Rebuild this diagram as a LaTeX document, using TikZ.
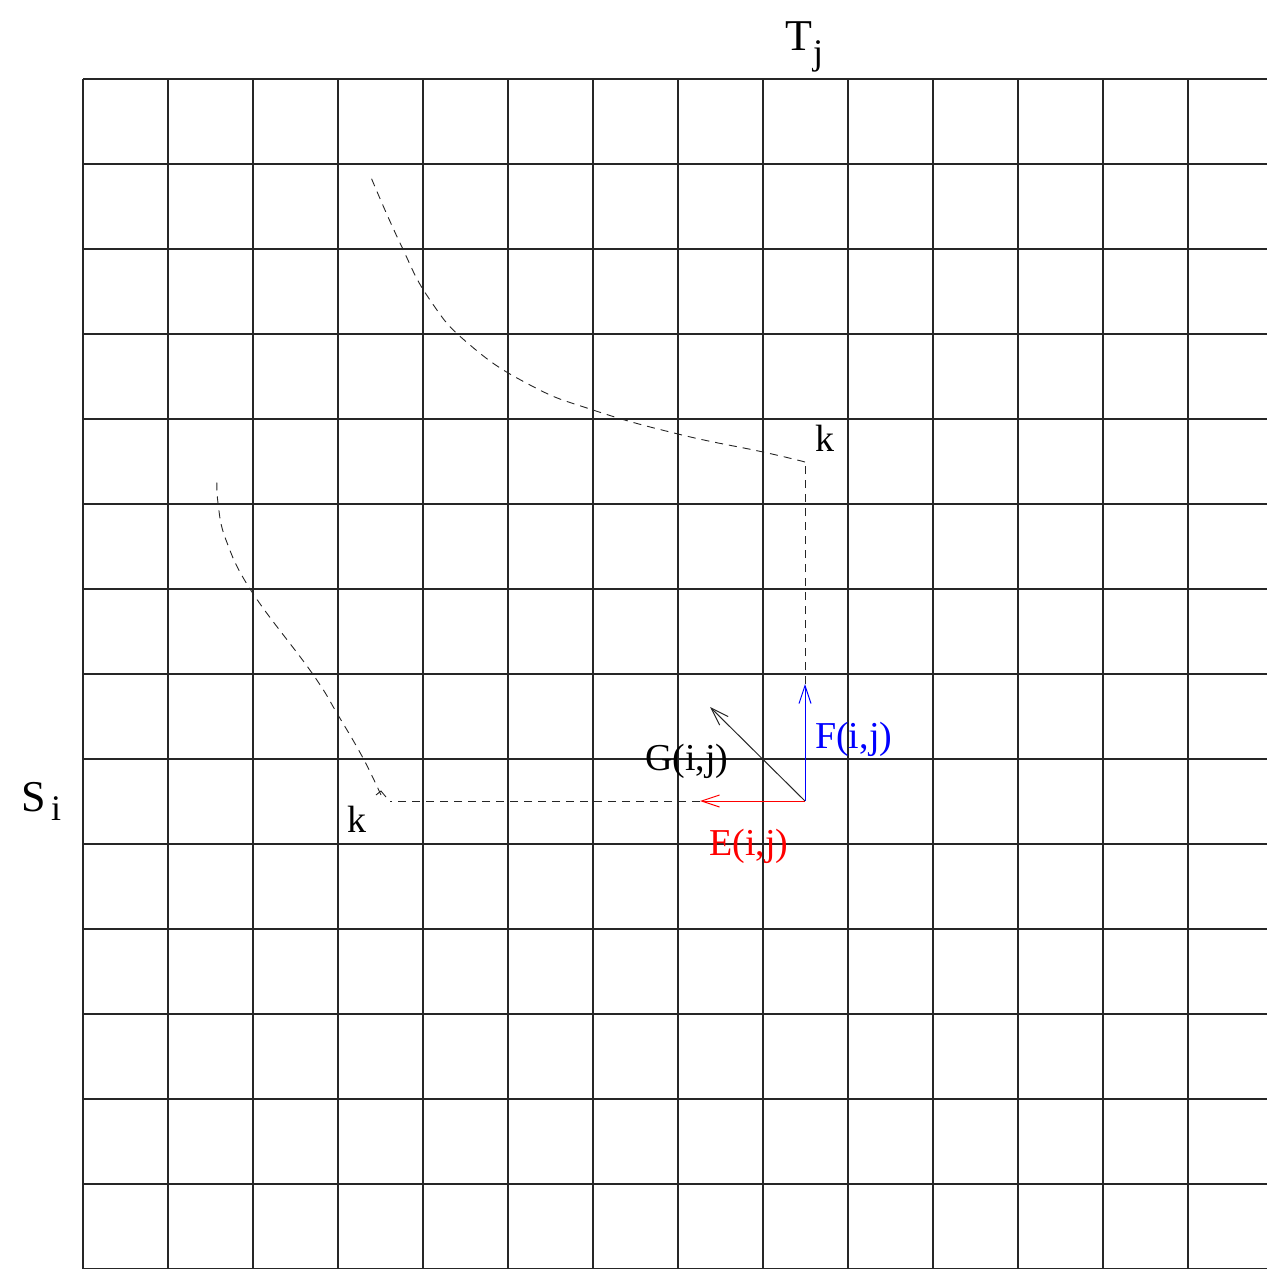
\documentclass[tikz,border=0pt]{standalone}
\usepackage{fontspec}
\setmainfont{Liberation Serif}
\usetikzlibrary{arrows.meta}
\begin{document}
\begin{tikzpicture}[x=1pt,y=-1pt,
  gridline/.style={line width=1.1pt,black!85},
  trace/.style={line width=0.9pt,black!85,dash pattern=on 8pt off 6pt},
  vec/.style={line width=1pt,-{Straight Barb[length=18pt,width=12pt,line width=1pt]}},
  lbl/.style={font=\fontsize{38}{44}\selectfont,inner sep=0pt,anchor=base west},
  big/.style={font=\fontsize{44}{50}\selectfont,inner sep=0pt,anchor=base west},
  sub/.style={font=\fontsize{36}{42}\selectfont,inner sep=0pt,anchor=base west}]
\useasboundingbox (0,0) rectangle (1267,1269);
% grid
\foreach \k in {0,...,13} {\draw[gridline] (83+85*\k,79) -- (83+85*\k,1268.5);}
\foreach \k in {0,...,14} {\draw[gridline] (83,79+85*\k) -- (1267,79+85*\k);}
\draw[gridline] (83,1268.5) -- (1267,1268.5);
% axis labels
\node[big] (T) at (785,50) {T};
\node[sub] (Tj) at (813,64) {j};
\node[big] (S) at (21,811) {S};
\node[sub] (Si) at (51,820) {i};
% key points
\coordinate (o) at (805,801);
\coordinate (fe) at (805,684);
\coordinate (ee) at (700,801);
\coordinate (ge) at (710,707);
\coordinate (kup) at (805,462);
\coordinate (klo) at (381,795);
\coordinate (kloh) at (390,801);
% dashed traces
\draw[trace] (fe) -- (kup);
\draw[trace] plot[smooth,tension=0.8] coordinates {(kup) (763,452) (678,434) (593,410) (530,385) (470,345) (430,300) (400,243) (370,175)};
\draw[trace] (ee) -- (kloh);
\draw[trace] plot[smooth,tension=0.7] coordinates {(klo) (363,758) (338,715) (312,673) (252,592) (226,540) (218,503) (217,477)};
\draw[line width=0.9pt,black!85] (376,795) -- (381,791) -- (386,797);
% vectors
\draw[vec,blue] (o) -- (fe);
\draw[vec,red] (o) -- (ee);
\draw[vec,black!85] (o) -- (ge);
% labels
\node[lbl,blue] (F) at (815,748) {F(i,j)};
\node[lbl,red] (E) at (709,855) {E(i,j)};
\node[lbl] (G) at (645,770) {G(i,j)};
\node[lbl] (k1) at (815,451) {k};
\node[lbl] (k2) at (347,832) {k};
\end{tikzpicture}
\end{document}
